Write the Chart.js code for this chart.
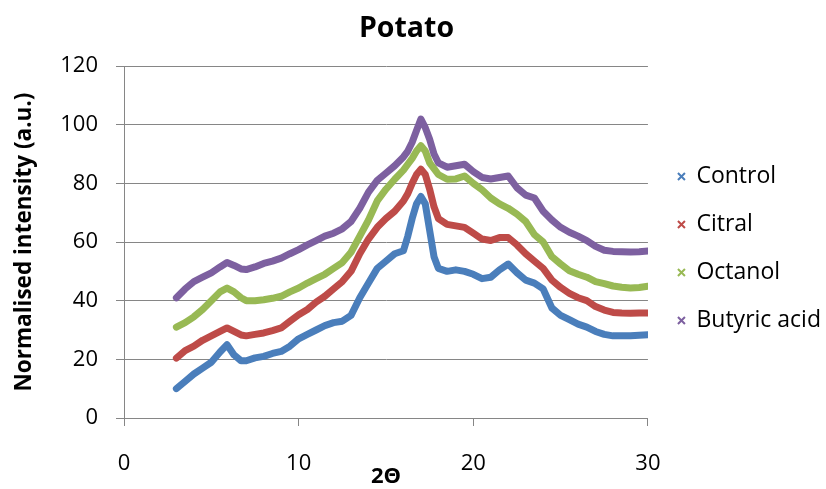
<!DOCTYPE html>
<html>
<head>
<meta charset="utf-8">
<script src="https://cdn.jsdelivr.net/npm/chart.js@4/dist/chart.umd.min.js"></script>
<style>
html,body{margin:0;padding:0;background:#fff;}
#wrap{width:826px;height:489px;position:relative;}
</style>
</head>
<body>
<div id="wrap"><canvas id="c"></canvas></div>
<script>
// ---- data ----
const chartTitle = 'Potato';
const xTitle = '2Θ';
const yTitle = 'Normalised intensity (a.u.)';
const seriesNames = ['Control', 'Citral', 'Octanol', 'Butyric acid'];

const twoTheta = [3,3.5,4,4.5,5,5.5,5.9,6.3,6.7,7,7.5,8,8.5,9,9.5,10,10.5,11,11.5,12,12.5,13,13.5,14,14.5,15,15.5,16,16.25,16.5,16.75,17,17.25,17.5,17.75,18,18.5,19,19.5,20,20.5,21,21.5,22,22.5,23,23.5,24,24.5,25,25.5,26,26.5,27,27.5,28,28.5,29,29.5,30];

const control = [10,12.5,15,17,19,22.5,25,21.5,19.5,19.5,20.5,21,22,22.7,24.5,27,28.5,30,31.5,32.5,33,35,41,46,51,53.5,56,57,62,68,73,75.5,73,64,55,51,50,50.5,50,49,47.5,48,50.5,52.5,49.5,47,46,44,37.5,35,33.5,32,31,29.5,28.5,28,28,28,28.2,28.4];

const citral = [20.4,23,24.5,26.5,28,29.5,30.7,29.5,28.3,28,28.5,29,29.8,30.7,33,35.2,37,39.5,41.5,44,46.5,50,56,61,65,68,70.5,74,76.5,80,83,84.8,83,78,72,68,66,65.5,65,63,61,60.5,61.5,61.5,59,56,53.5,51,47,44.5,42.5,41,40,38,36.8,36,35.8,35.7,35.8,35.8];

const octanol = [31,32.5,34.5,37,40,43,44.3,43,41,40,40,40.3,40.8,41.5,43,44.3,46,47.5,49,51,53,56.5,62,67.5,74,78,81.4,84.5,86.5,88.5,91,92.8,91,87,85,83,81.4,81.5,82.5,80,77.8,75,73,71.5,69.5,67,62.5,60,55,52.5,50.2,49,48,46.5,45.8,45,44.6,44.3,44.5,44.9];

const butyricAcid = [41,44,46.5,48,49.5,51.5,53,52,50.8,50.6,51.5,52.7,53.5,54.5,56,57.4,59,60.5,62,63,64.5,67,71.5,77,81,83.5,86,89,91,94,98,101.9,99,95,90,87,85.5,86,86.5,84,82,81.5,82,82.5,78.5,76,75,70.5,67.5,65,63.3,62,60.5,58.5,57.2,56.8,56.7,56.6,56.7,56.9];

const xTickValues = [0, 10, 20, 30];
const yTickValues = [0, 20, 40, 60, 80, 100, 120];

// ---- styling ----
const seriesColors = ['#4A7EBB', '#BE4B48', '#98B954', '#7D60A0'];
const seriesValues = [control, citral, octanol, butyricAcid];
const axisGray = '#868686';
const FONT = "'Open Sans', 'Liberation Sans', sans-serif";

const datasets = seriesValues.map((vals, i) => ({
  label: seriesNames[i],
  data: twoTheta.map((x, j) => ({x: x, y: vals[j]})),
  borderColor: seriesColors[i],
  backgroundColor: seriesColors[i],
  borderWidth: 7,
  borderJoinStyle: 'round',
  borderCapStyle: 'round',
  pointRadius: 0,
  pointHitRadius: 0,
  pointStyle: 'crossRot',
  showLine: true,
  fill: false,
  tension: 0,
  order: seriesNames.length - i
}));

// fine placement of the legend and title boxes after Chart.js layout
const boxNudge = {
  id: 'boxNudge',
  afterLayout(chart) {
    const ca = chart.chartArea;
    const lg = chart.legend;
    const dx = ca.right + 5 - lg.left;
    lg.left += dx; lg.right += dx;
    lg.top += 4; lg.bottom += 4;
    const tb = chart.titleBlock;
    tb.left -= 6.5; tb.right -= 6.5;
  }
};

new Chart(document.getElementById('c'), {
  type: 'scatter',
  data: { datasets: datasets },
  plugins: [boxNudge],
  options: {
    responsive: true,
    maintainAspectRatio: false,
    animation: false,
    devicePixelRatio: 1,
    layout: { padding: { left: 0, right: 0, top: 0, bottom: 0 } },
    plugins: {
      tooltip: { enabled: false },
      title: {
        display: true,
        text: chartTitle,
        color: '#000',
        font: { family: FONT, size: 28.5, weight: 'bold', lineHeight: 1.2 },
        padding: { top: 12, bottom: 19.8 }
      },
      legend: {
        position: 'right',
        align: 'center',
        labels: {
          usePointStyle: true,
          boxWidth: 7,
          boxHeight: 7,
          padding: 25,
          color: '#000',
          font: { family: FONT, size: 23 },
          generateLabels(chart) {
            return chart.data.datasets.map((ds, i) => ({
              text: ds.label,
              fillStyle: ds.borderColor,
              strokeStyle: ds.borderColor,
              lineWidth: 2,
              pointStyle: 'crossRot',
              hidden: false,
              datasetIndex: i,
              fontColor: '#000'
            }));
          }
        }
      }
    },
    scales: {
      x: {
        type: 'linear',
        min: 0, max: 30,
        afterFit(s) { s.height = 71; },
        afterBuildTicks(s) { s.ticks = xTickValues.map(v => ({value: v})); },
        ticks: { color: '#000', font: { family: FONT, size: 22, lineHeight: 1 }, padding: 27, maxRotation: 0 },
        grid: { display: true, drawOnChartArea: false, drawTicks: true, tickLength: 8, color: axisGray, lineWidth: 1 },
        border: { display: true, color: axisGray, width: 1 },
        title: { display: true, text: xTitle, color: '#000', font: { family: FONT, size: 22, weight: 'bold', lineHeight: 1 }, padding: { top: 0, bottom: 1 } }
      },
      y: {
        type: 'linear',
        min: 0, max: 120,
        afterFit(s) { s.width = 124; },
        afterBuildTicks(s) { s.ticks = yTickValues.map(v => ({value: v})); },
        ticks: { color: '#000', font: { family: FONT, size: 22, lineHeight: 1 }, padding: 18 },
        grid: { display: true, drawOnChartArea: true, drawTicks: true, tickLength: 8, color: axisGray, lineWidth: 1 },
        border: { display: true, color: axisGray, width: 1 },
        title: { display: true, text: yTitle, color: '#000', font: { family: FONT, size: 22.5, weight: 'bold', lineHeight: 1 }, padding: { top: 13, bottom: 0 } }
      }
    }
  }
});
</script>
</body>
</html>
